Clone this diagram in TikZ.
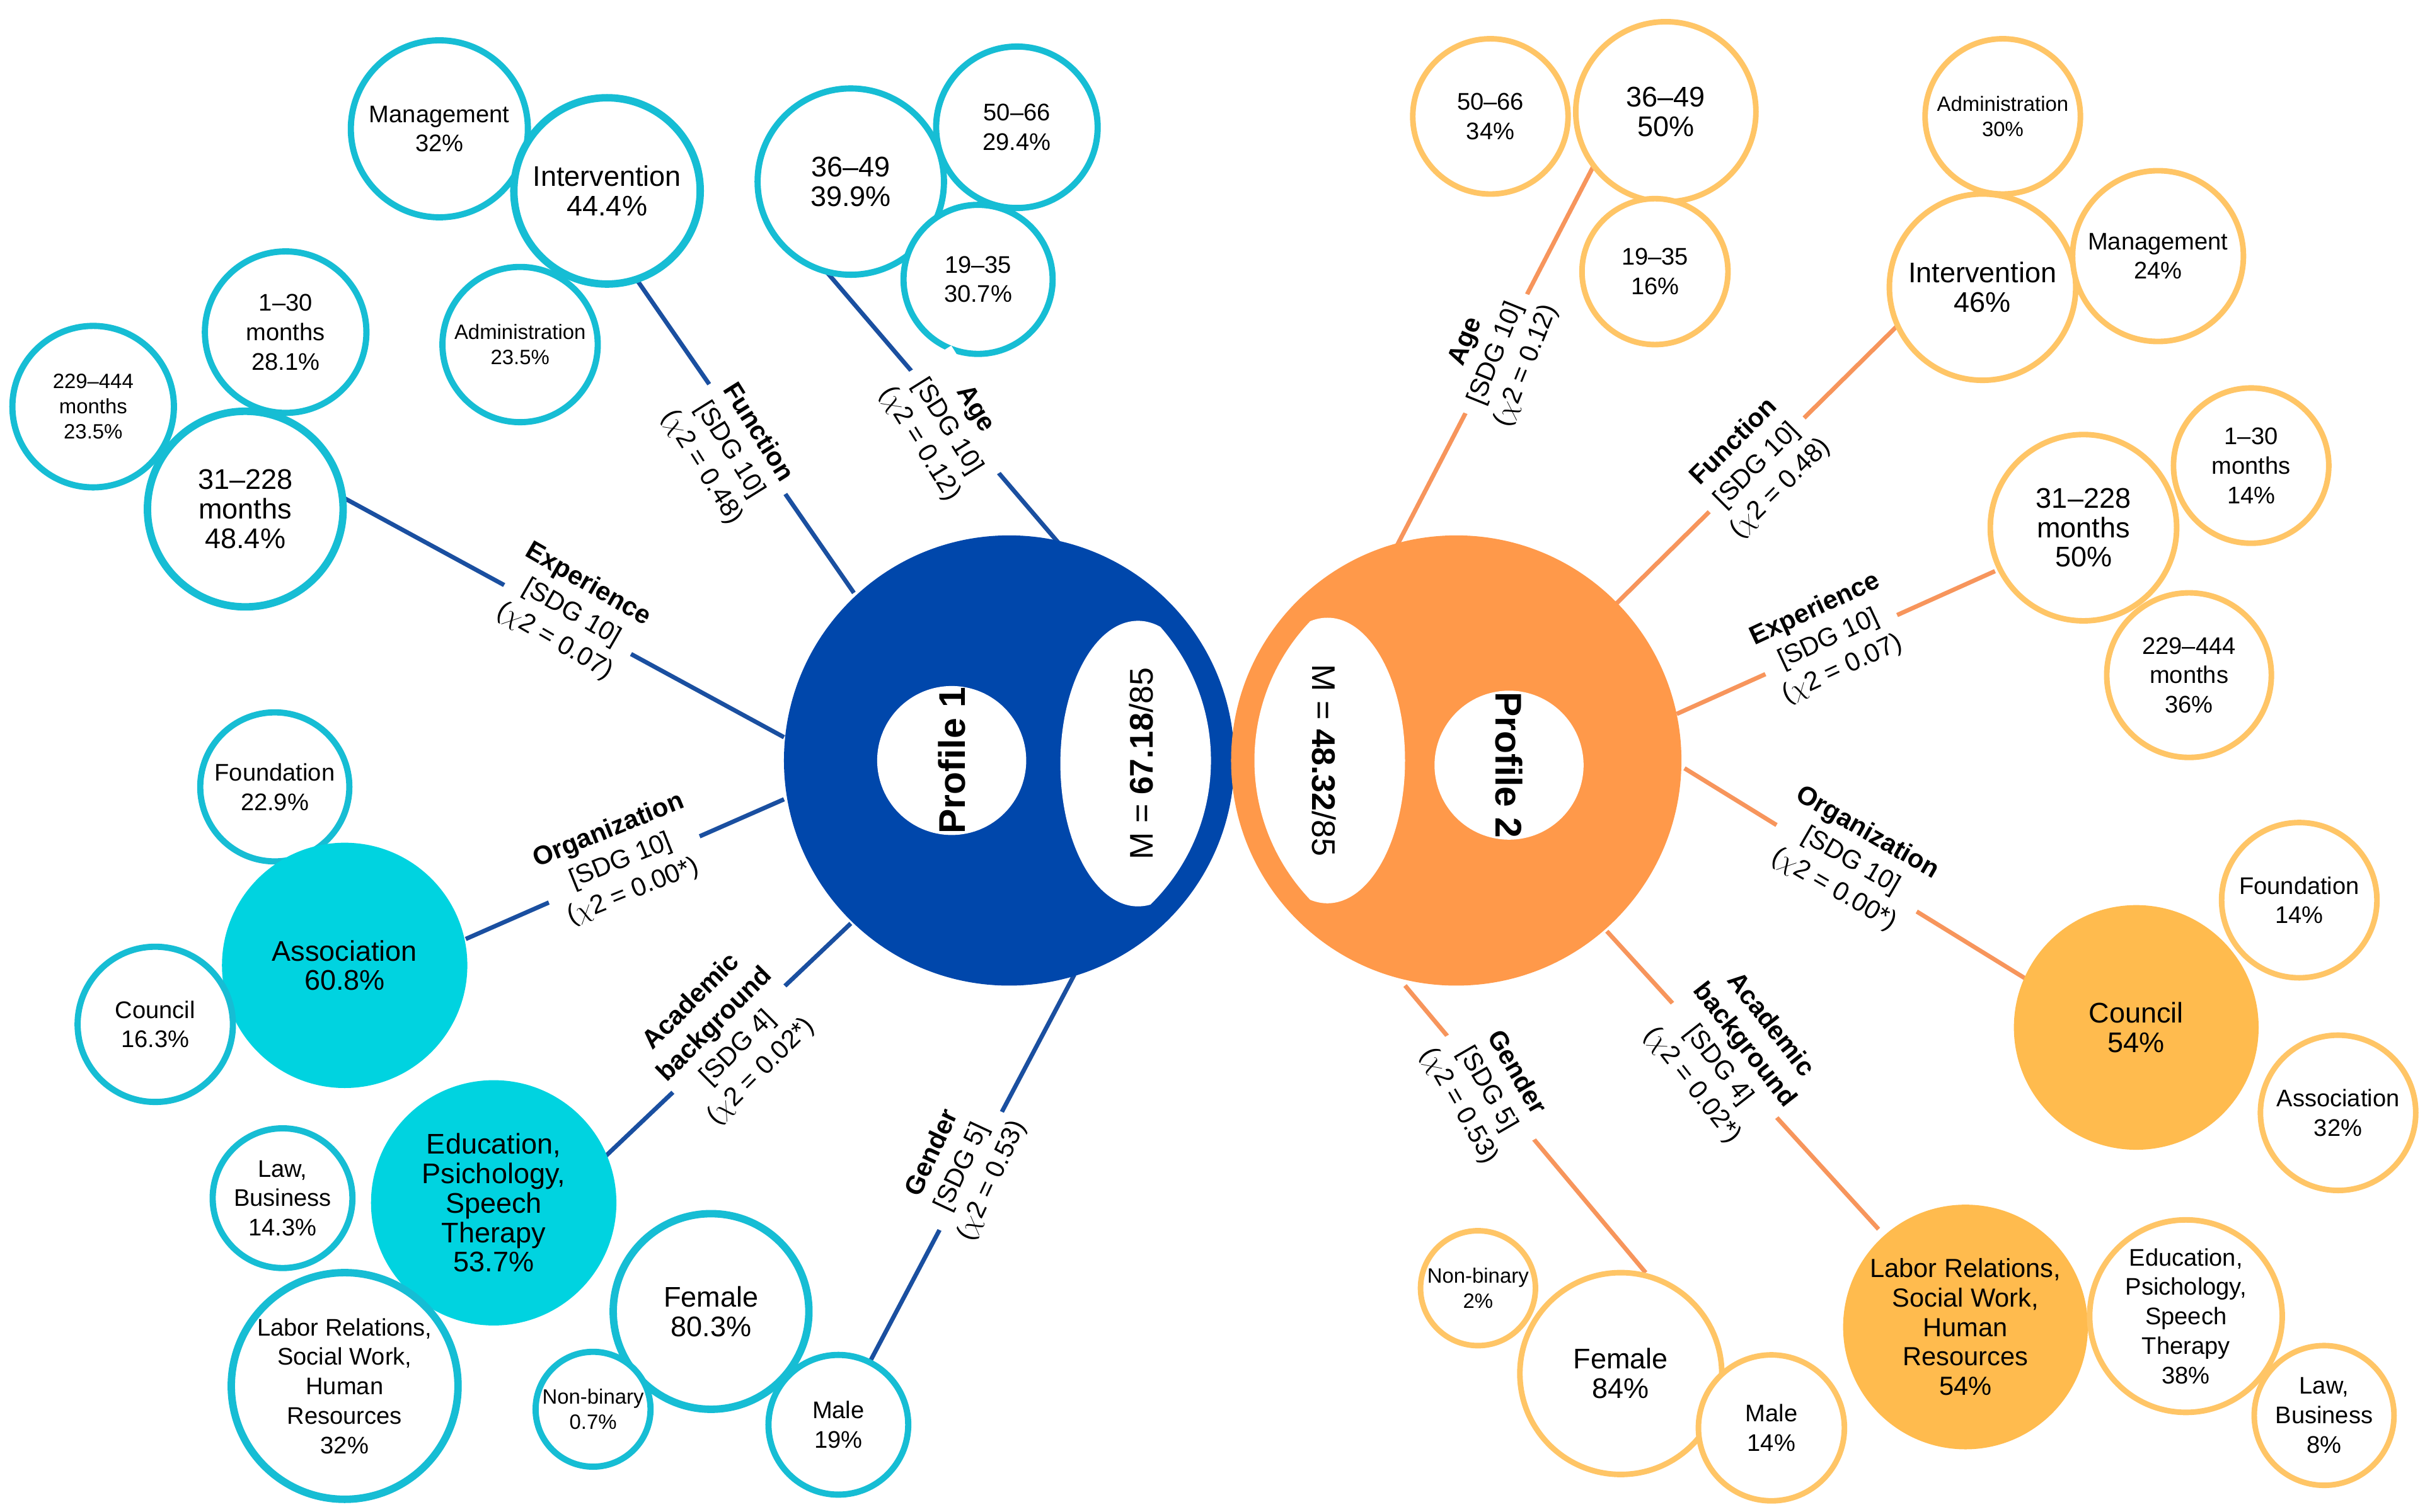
\documentclass[tikz,border=0pt]{standalone}
\usepackage{fontspec}
\setmainfont{Liberation Sans}
\begin{document}
\begin{tikzpicture}[x=0.025cm,y=-0.025cm,
 sb/.style={circle,draw=cyanb,line width=0.1cm,fill=white,align=center,inner sep=0pt,font=\fontsize{11}{13.5}\selectfont},
 sbf/.style={sb,fill=cyanf,draw=cyanf},
 so/.style={circle,draw=orb,line width=0.09cm,fill=white,align=center,inner sep=0pt,font=\fontsize{11}{13.5}\selectfont},
 sof/.style={so,fill=orf,draw=orf},
 r/.style={minimum size=#1*0.05cm},
 sm/.style={font=\fontsize{9.5}{11.5}\selectfont},
 lb/.style={line width=0.07cm,draw=blueline},
 lo/.style={line width=0.07cm,draw=orline},
 lab/.style={fill=white,align=center,inner sep=1pt,font=\fontsize{12}{15}\selectfont}]
\definecolor{cyanb}{HTML}{16BDD4}
\definecolor{cyanf}{HTML}{00D3E0}
\definecolor{orb}{HTML}{FFC566}
\definecolor{orf}{HTML}{FFBB4E}
\definecolor{blueline}{HTML}{1A4FA0}
\definecolor{orline}{HTML}{F7955C}
\definecolor{pblue}{HTML}{0047AB}
\definecolor{porange}{HTML}{FF994A}
\useasboundingbox (0,0) rectangle (1562,974);
% connector end points
\coordinate (a1) at (550,382); \coordinate (b1) at (410,180);
\coordinate (a2) at (682,350); \coordinate (b2) at (528,170);
\coordinate (a3) at (505,475); \coordinate (b3) at (220,320);
\coordinate (a4) at (505,515); \coordinate (b4) at (300,605);
\coordinate (a5) at (548,595); \coordinate (b5) at (390,745);
\coordinate (a6) at (692,628); \coordinate (b6) at (560,878);
\coordinate (c1) at (898,355); \coordinate (d1) at (1030,100);
\coordinate (c2) at (1040,390); \coordinate (d2) at (1222,210);
\coordinate (c3) at (1080,460); \coordinate (d3) at (1285,368);
\coordinate (c4) at (1085,495); \coordinate (d4) at (1320,640);
\coordinate (c5) at (1035,600); \coordinate (d5) at (1210,792);
\coordinate (c6) at (905,635); \coordinate (d6) at (1060,820);
\draw[lb] (a1) -- (b1); \draw[lb] (a2) -- (b2); \draw[lb] (a3) -- (b3);
\draw[lb] (a4) -- (b4); \draw[lb] (a5) -- (b5); \draw[lb] (a6) -- (b6);
\draw[lo] (c1) -- (d1); \draw[lo] (c2) -- (d2); \draw[lo] (c3) -- (d3);
\draw[lo] (c4) -- (d4); \draw[lo] (c5) -- (d5); \draw[lo] (c6) -- (d6);
% profiles
\node[circle,fill=pblue,r=145,inner sep=0] (p1) at (650,490) {};
\node[circle,fill=porange,r=145,inner sep=0] (p2) at (938,490) {};
% left satellites
\node[sb,r=57] (lman) at (283,83) {Management\\32\%};
\node[sb,r=60,line width=0.12cm] (lint) at (391,123) {\fontsize{13}{15}\selectfont Intervention\\\fontsize{13}{15}\selectfont 44.4\%};
\node[sb,r=50,sm] (ladm) at (335,222) {Administration\\23.5\%};
\node[sb,r=60] (la3649) at (548,117) {\fontsize{13}{15}\selectfont 36--49\\\fontsize{13}{15}\selectfont 39.9\%};
\node[sb,r=52] (la5066) at (655,82) {50--66\\29.4\%};
\node[sb,r=48] (la1935) at (630,180) {19--35\\30.7\%};
\node[sb,r=52] (le130) at (184,214) {1--30\\months\\28.1\%};
\node[sb,r=52,sm] (le229) at (60,262) {229--444\\months\\23.5\%};
\node[sb,r=63,line width=0.12cm] (le31) at (158,328) {\fontsize{13}{15}\selectfont 31--228\\\fontsize{13}{15}\selectfont months\\\fontsize{13}{15}\selectfont 48.4\%};
\node[sb,r=48] (lofou) at (177,507) {Foundation\\22.9\%};
\node[sbf,r=77] (loass) at (222,622) {\fontsize{13}{15}\selectfont Association\\\fontsize{13}{15}\selectfont 60.8\%};
\node[sb,r=50] (locou) at (100,660) {Council\\16.3\%};
\node[sbf,r=77] (lbedu) at (318,775) {\fontsize{13}{15.5}\selectfont Education,\\\fontsize{13}{15.5}\selectfont Psichology,\\\fontsize{13}{15.5}\selectfont Speech\\\fontsize{13}{15.5}\selectfont Therapy\\\fontsize{13}{15.5}\selectfont 53.7\%};
\node[sb,r=45] (lblaw) at (182,772) {Law,\\Business\\14.3\%};
\node[sb,r=73,line width=0.12cm] (lblab) at (222,893) {Labor Relations,\\Social Work,\\Human\\Resources\\32\%};
\node[sb,r=63,line width=0.12cm] (lgfem) at (458,845) {\fontsize{13}{15.5}\selectfont Female\\\fontsize{13}{15.5}\selectfont 80.3\%};
\node[sb,r=37,sm] (lgnb) at (382,908) {Non-binary\\0.7\%};
\node[sb,r=45] (lgmal) at (540,918) {Male\\19\%};
% right satellites
\node[so,r=50] (ra5066) at (960,75) {50--66\\34\%};
\node[so,r=58] (ra3649) at (1073,72) {\fontsize{13}{15.5}\selectfont 36--49\\\fontsize{13}{15.5}\selectfont 50\%};
\node[so,r=47] (ra1935) at (1066,175) {19--35\\16\%};
\node[so,r=50,sm] (radm) at (1290,75) {Administration\\30\%};
\node[so,r=60] (rint) at (1277,185) {\fontsize{13}{15.5}\selectfont Intervention\\\fontsize{13}{15.5}\selectfont 46\%};
\node[so,r=55] (rman) at (1390,165) {Management\\24\%};
\node[so,r=50] (re130) at (1450,300) {1--30\\months\\14\%};
\node[so,r=60] (re31) at (1342,340) {\fontsize{13}{15.5}\selectfont 31--228\\\fontsize{13}{15.5}\selectfont months\\\fontsize{13}{15.5}\selectfont 50\%};
\node[so,r=53] (re229) at (1410,435) {229--444\\months\\36\%};
\node[so,r=50] (rofou) at (1481,580) {Foundation\\14\%};
\node[sof,r=77] (rocou) at (1376,662) {\fontsize{13}{15.5}\selectfont Council\\\fontsize{13}{15.5}\selectfont 54\%};
\node[so,r=50] (roass) at (1506,717) {Association\\32\%};
\node[so,r=37,sm] (rgnb) at (952,830) {Non-binary\\2\%};
\node[so,r=65] (rgfem) at (1044,885) {\fontsize{13}{15.5}\selectfont Female\\\fontsize{13}{15.5}\selectfont 84\%};
\node[so,r=47] (rgmal) at (1141,920) {Male\\14\%};
\node[sof,r=77] (rblab) at (1266,855) {\fontsize{12}{14.5}\selectfont Labor Relations,\\\fontsize{12}{14.5}\selectfont Social Work,\\\fontsize{12}{14.5}\selectfont Human\\\fontsize{12}{14.5}\selectfont Resources\\\fontsize{12}{14.5}\selectfont 54\%};
\node[so,r=62] (rbedu) at (1408,848) {Education,\\Psichology,\\Speech\\Therapy\\38\%};
\node[so,r=45] (rblaw) at (1497,912) {Law,\\Business\\8\%};
% labels
\node[lab,rotate=-58] (tfun) at (470,290) {\textbf{Function}\\{}[SDG 10]\\($\chi$2 = 0.48)};
\node[lab,rotate=-58] (tage) at (610,275) {\textbf{Age}\\{}[SDG 10]\\($\chi$2 = 0.12)};
\node[lab,rotate=-30] (texp) at (368,395) {\textbf{Experience}\\{}[SDG 10]\\($\chi$2 = 0.07)};
\node[lab,rotate=22] (torg) at (400,555) {\textbf{Organization}\\{}[SDG 10]\\($\chi$2 = 0.00*)};
\node[lab,rotate=45] (tacad) at (468,668) {\textbf{Academic}\\\textbf{background}\\{}[SDG 4]\\($\chi$2 = 0.02*)};
\node[lab,rotate=65] (tgen) at (620,752) {\textbf{Gender}\\{}[SDG 5]\\($\chi$2 = 0.53)};
\node[lab,rotate=68] (rtage) at (964,228) {\textbf{Age}\\{}[SDG 10]\\($\chi$2 = 0.12)};
\node[lab,rotate=45] (rtfun) at (1132,300) {\textbf{Function}\\{}[SDG 10]\\($\chi$2 = 0.48)};
\node[lab,rotate=25] (rtexp) at (1178,412) {\textbf{Experience}\\{}[SDG 10]\\($\chi$2 = 0.07)};
\node[lab,rotate=-30] (rtorg) at (1192,555) {\textbf{Organization}\\{}[SDG 10]\\($\chi$2 = 0.00*)};
\node[lab,rotate=-52] (rtacad) at (1115,680) {\textbf{Academic}\\\textbf{background}\\{}[SDG 4]\\($\chi$2 = 0.02*)};
\node[lab,rotate=-60] (rtgen) at (958,702) {\textbf{Gender}\\{}[SDG 5]\\($\chi$2 = 0.53)};
% profile interiors
\begin{scope}
\clip (650,490) circle (130);
\fill[white] (733,492) ellipse (50 and 92);
\end{scope}
\fill[white] (613,490) circle (48);
\node[rotate=90,font=\fontsize{17}{19}\selectfont\bfseries] (t1) at (613,490) {Profile 1};
\node[rotate=90,font=\fontsize{15}{17}\selectfont] (m1) at (735,492) {M = \textbf{67.18}/85};
\begin{scope}
\clip (938,490) circle (130);
\fill[white] (855,490) ellipse (50 and 92);
\end{scope}
\fill[white] (972,493) circle (48);
\node[rotate=-90,font=\fontsize{17}{19}\selectfont\bfseries] (t2) at (972,493) {Profile 2};
\node[rotate=-90,font=\fontsize{15}{17}\selectfont] (m2) at (853,490) {M = \textbf{48.32}/85};
\end{tikzpicture}
\end{document}
